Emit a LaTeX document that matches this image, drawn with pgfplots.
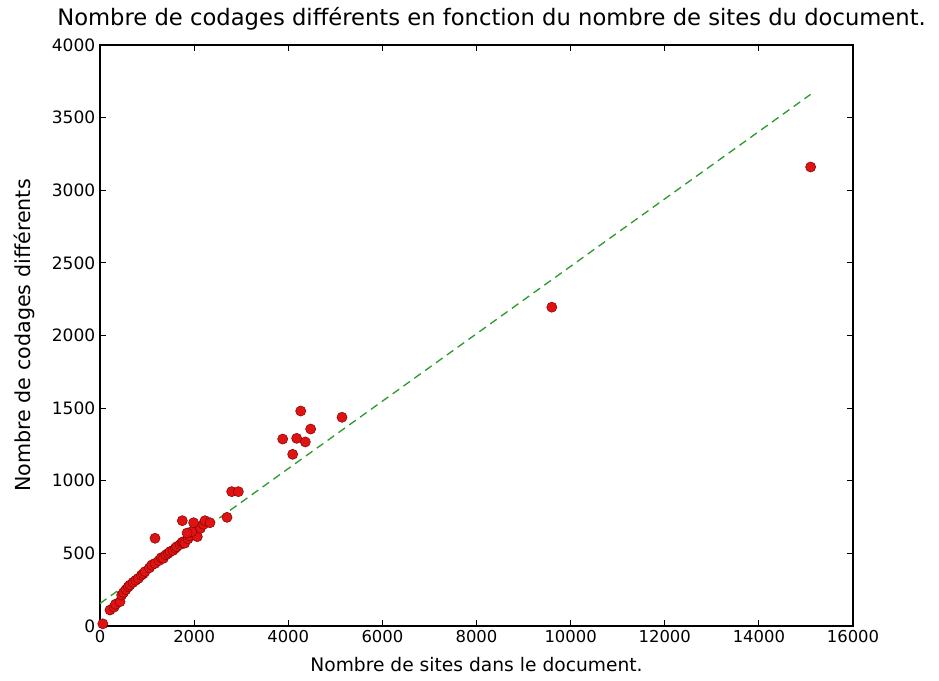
\documentclass[border=0pt]{standalone}
\usepackage{fontspec}
\setmainfont{DejaVu Sans}
\usepackage{pgfplots}
\pgfplotsset{compat=1.18}
\definecolor{mplgreen}{RGB}{45,155,45}
\definecolor{ptred}{RGB}{222,20,20}

\begin{document}
\begin{tikzpicture}[x=1pt,y=1pt]
\begin{axis}[
    at={(0,0)}, anchor=south west,
    scale only axis,
    width=564.75pt, height=435.75pt,
    xmin=0, xmax=16000, ymin=0, ymax=4000,
    xtick={0,2000,...,16000},
    ytick={0,500,...,4000},
    scaled ticks=false,
    /pgf/number format/1000 sep={},
    /pgf/number format/assume math mode=true,
    tick align=inside,
    major tick length=4.5pt,
    tick style={black, line width=0.6pt},
    axis line style={black, line width=1pt},
    xticklabel style={font=\fontsize{12.3}{14}\selectfont},
    yticklabel style={font=\fontsize{12.8}{14}\selectfont},
    xlabel={Nombre de sites dans le document.},
    ylabel={Nombre de codages différents},
    xlabel style={font=\fontsize{14}{16}\selectfont,
        at={(axis description cs:0.5,-0.067)}, anchor=center},
    ylabel style={font=\fontsize{15.5}{17}\selectfont,
        at={(axis description cs:-0.101,0.5)}, anchor=center, rotate=0},
    title={Nombre de codages différents en fonction du nombre de sites du document.},
    title style={font=\fontsize{17}{19}\selectfont,
        at={(axis description cs:0.52,1.031)}, anchor=center},
]
% tendance
\addplot[mplgreen, line width=1pt, dash pattern=on 6pt off 4pt] coordinates {
    (0,155) (15100,3660)
};
% documents
\addplot[only marks, mark=*, mark size=3.8pt,
    mark options={fill=ptred, draw=red!55!black, line width=0.4pt}] coordinates {
    (60,15) (212,110) (300,130) (330,150) (425,167) (460,213) (500,230)
    (550,250) (600,270) (637,282) (700,300) (760,315) (815,328) (880,350)
    (920,360) (956,374) (1050,400) (1100,420) (1169,431) (1250,450)
    (1300,470) (1346,466) (1400,490) (1450,500) (1487,512) (1550,520)
    (1600,535) (1629,546) (1700,560) (1740,575) (1771,580) (1800,570)
    (1870,600) (1900,620) (2000,640) (2068,615) (2100,680) (2132,672)
    (2200,700) (1948,649) (1850,640) (1169,604) (1749,725) (1989,711)
    (2231,725) (2337,711) (2699,748) (2798,925) (2940,925)
    (3882,1287) (4094,1182) (4179,1292) (4265,1480) (4363,1267)
    (4476,1356) (5142,1437)
    (9600,2195) (15100,3160)
};
\end{axis}
\pgfresetboundingbox
\useasboundingbox (-75pt,-41.25pt) rectangle (629.25pt,469.5pt);
\end{tikzpicture}
\end{document}
